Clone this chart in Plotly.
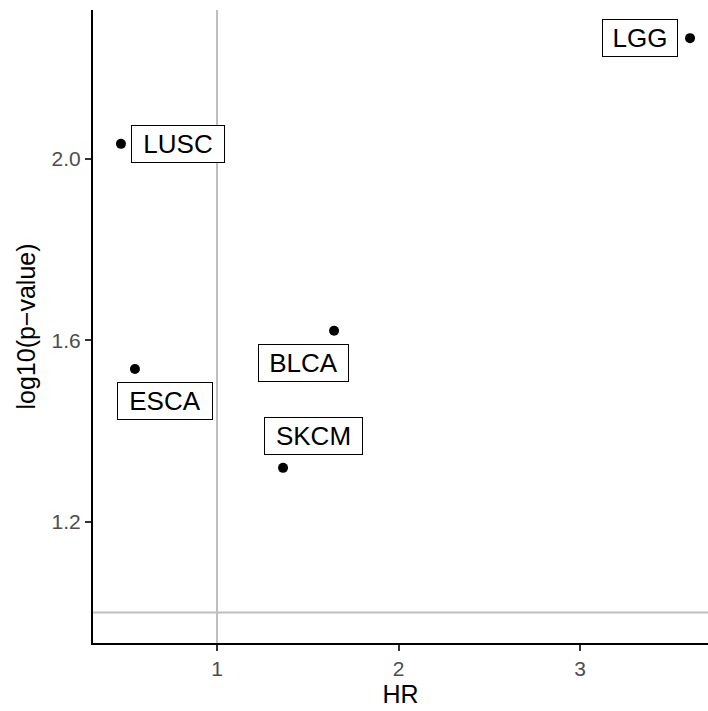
import plotly.graph_objects as go

cancers = ["LGG", "LUSC", "BLCA", "ESCA", "SKCM"]
hr = [3.606, 0.471, 1.645, 0.548, 1.364]
logp = [2.266, 2.033, 1.621, 1.537, 1.319]
label_dx = [-50, 57, -31, 30, 30]
label_dy = [0, 0, -32, -32, 32]
label_w = [68, 86, 83, 88, 91]

fig = go.Figure()
fig.add_trace(go.Scatter(x=hr, y=logp, mode="markers",
                         marker=dict(color="black", size=10), hoverinfo="skip"))

for c, x, y, dx, dy, w in zip(cancers, hr, logp, label_dx, label_dy, label_w):
    fig.add_annotation(x=x, y=y, text=c, showarrow=False, xshift=dx, yshift=dy,
                       font=dict(family="Liberation Sans, Arial", size=26, color="black"),
                       bordercolor="black", borderwidth=1, borderpad=3, bgcolor="white",
                       width=w, height=30)

fig.add_shape(type="line", xref="x", yref="paper", x0=1, x1=1, y0=0, y1=1,
              line=dict(color="#bebebe", width=2), layer="below")
fig.add_shape(type="line", xref="paper", yref="y", x0=0, x1=1, y0=1, y1=1,
              line=dict(color="#bebebe", width=2), layer="below")

fig.update_layout(
    width=708, height=711,
    margin=dict(l=93, r=0, t=10, b=68),
    plot_bgcolor="white", paper_bgcolor="white",
    showlegend=False,
    font=dict(family="Liberation Sans, Arial"),
)
fig.update_xaxes(range=[0.317, 3.705], tickvals=[1, 2, 3], ticktext=["1", "2", "3"],
                 showgrid=False, zeroline=False, showline=True, linecolor="black", linewidth=2,
                 ticks="outside", ticklen=6, tickcolor="#333333", tickwidth=1.5,
                 tickfont=dict(size=21, color="#4d4d4d"),
                 title=dict(text="HR", font=dict(size=25, color="black"), standoff=6))
fig.update_yaxes(range=[0.933, 2.328], tickvals=[1.2, 1.6, 2.0], ticktext=["1.2", "1.6", "2.0"],
                 showgrid=False, zeroline=False, showline=True, linecolor="black", linewidth=2,
                 ticks="outside", ticklen=6, tickcolor="#333333", tickwidth=1.5,
                 tickfont=dict(size=21, color="#4d4d4d"),
                 title=dict(text="log10(p\u2212value)", font=dict(size=25, color="black"), standoff=9))

fig.write_html("out.html", config={"displayModeBar": False},
               post_script="document.body.style.margin='0';document.body.style.overflow='hidden';")
